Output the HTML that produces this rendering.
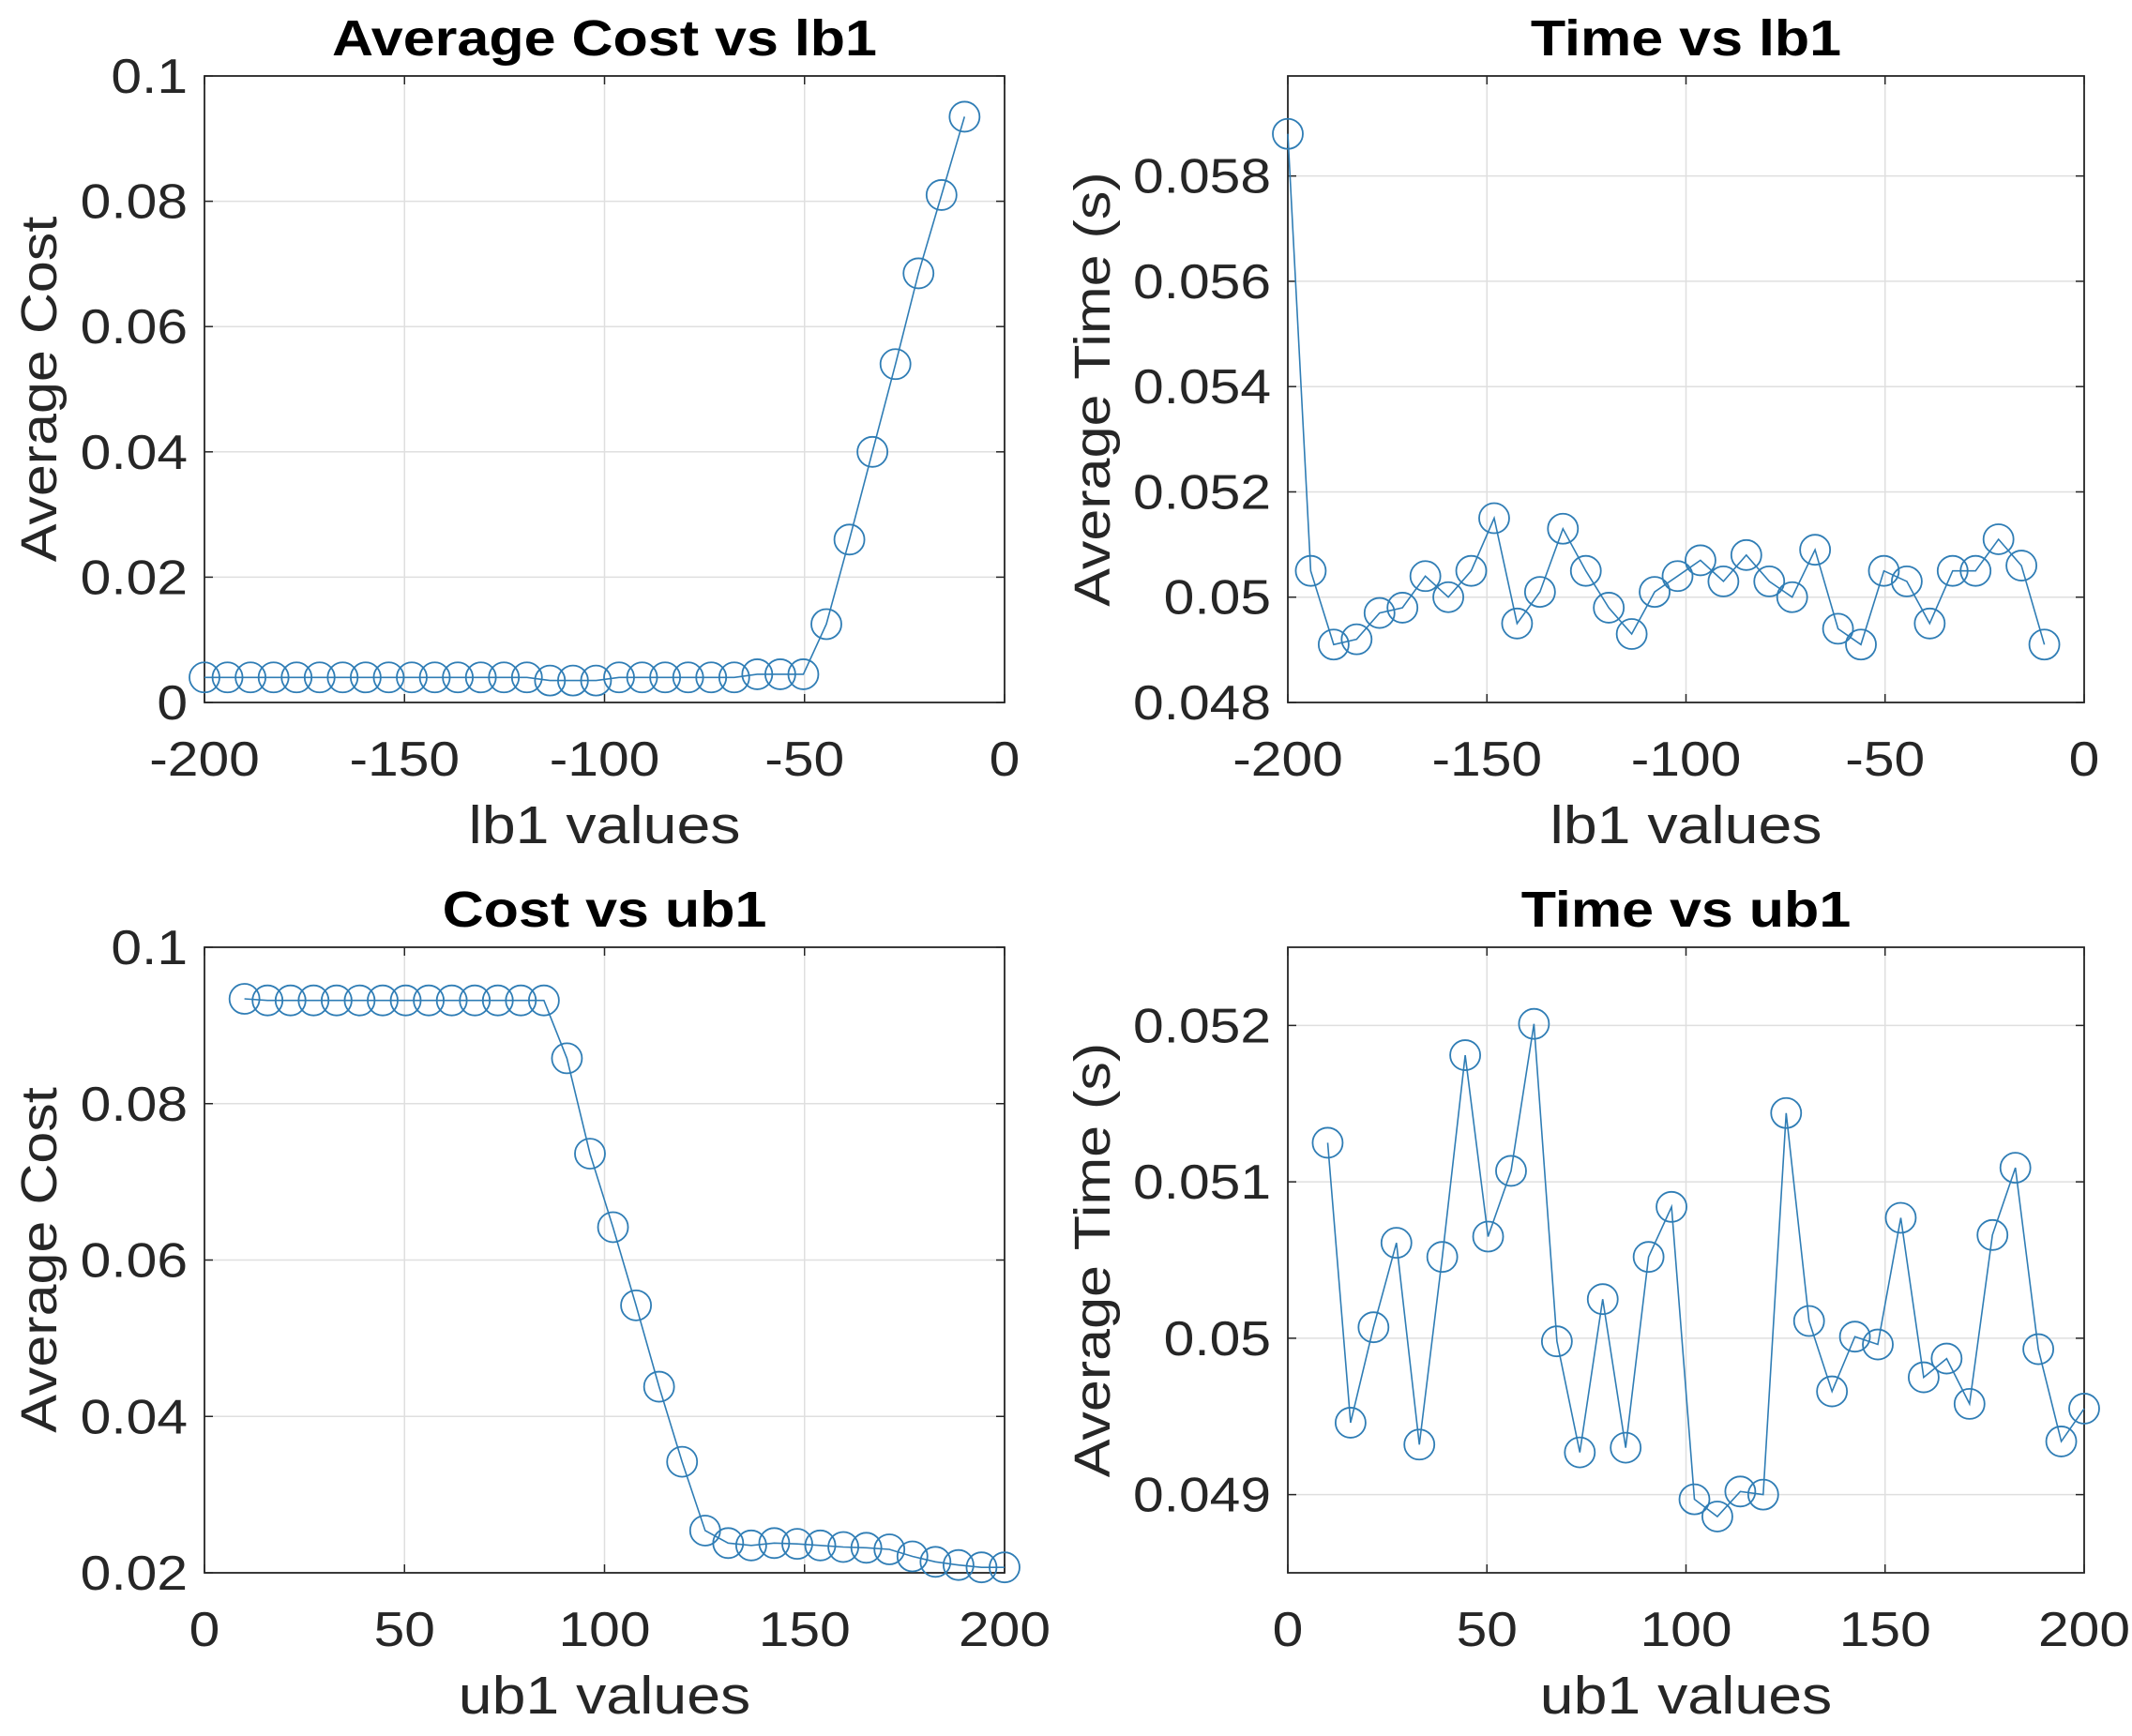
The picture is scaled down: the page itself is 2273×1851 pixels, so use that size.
<!DOCTYPE html>
<html><head><meta charset="utf-8"><style>
html,body{margin:0;padding:0;background:#fff;}
svg{display:block;font-family:"Liberation Sans",Arial,sans-serif;}
</style></head><body>
<svg id="fig" width="2273" height="1851" viewBox="0 0 2273 1851" xmlns="http://www.w3.org/2000/svg"></svg>
<script>
// ---- data ----
const lbX = [];
for (let i = 0; i < 34; i++) lbX.push(-200 + i * 190 / 33);
const ubX = [];
for (let i = 0; i < 34; i++) ubX.push(10 + i * 190 / 33);
const costLb = [0.004,0.004,0.004,0.004,0.004,0.004,0.004,0.004,0.004,0.004,0.004,0.004,0.004,0.004,0.004,0.0035,0.0035,0.0035,0.004,0.004,0.004,0.004,0.004,0.004,0.0045,0.0045,0.0045,0.0125,0.026,0.040,0.054,0.0685,0.081,0.0935];
const timeLb = [0.0588,0.0505,0.0491,0.0492,0.0497,0.0498,0.0504,0.0500,0.0505,0.0515,0.0495,0.0501,0.0513,0.0505,0.0498,0.0493,0.0501,0.0504,0.0507,0.0503,0.0508,0.0503,0.0500,0.0509,0.0494,0.0491,0.0505,0.0503,0.0495,0.0505,0.0505,0.0511,0.0506,0.0491];
const costUb = [0.0934,0.0932,0.0932,0.0932,0.0932,0.0932,0.0932,0.0932,0.0932,0.0932,0.0932,0.0932,0.0932,0.0932,0.0858,0.0736,0.0642,0.0542,0.0438,0.0342,0.0254,0.0238,0.0235,0.0238,0.0237,0.0235,0.0233,0.0232,0.0230,0.0221,0.0214,0.0210,0.0207,0.0207];
const timeUb = [0.05125,0.04946,0.05007,0.05061,0.04932,0.05052,0.05181,0.05065,0.05107,0.05201,0.04998,0.04927,0.05025,0.0493,0.05052,0.05084,0.04897,0.04886,0.04902,0.049,0.05144,0.05011,0.04966,0.05001,0.04996,0.05077,0.04975,0.04987,0.04958,0.05066,0.05109,0.04993,0.04934,0.04955];
const lbTicks = [-200,-150,-100,-50,0];
const ubTicks = [0,50,100,150,200];
const costLbTicks = [0,0.02,0.04,0.06,0.08,0.1];
const timeLbTicks = [0.048,0.05,0.052,0.054,0.056,0.058];
const costUbTicks = [0.02,0.04,0.06,0.08,0.1];
const timeUbTicks = [0.049,0.05,0.051,0.052];

const NS = "http://www.w3.org/2000/svg";
const svg = document.getElementById('fig');
const SX = 1.13;
function mk(tag, attrs, parent) {
  const e = document.createElementNS(NS, tag);
  for (const k in attrs) e.setAttribute(k, attrs[k]);
  (parent || svg).appendChild(e);
  return e;
}
function txt(g, x, y, s, size, anchor, extra, rot) {
  const t = mk('text', {x:0, y:0, 'text-anchor':anchor, 'font-size':size, fill:'#262626',
    transform:'translate('+x+' '+y+')' + (rot ? ' rotate(-90)' : '') + ' scale('+SX+' 1)'}, g);
  if (extra) for (const k in extra) t.setAttribute(k, extra[k]);
  t.textContent = s;
  return t;
}
function panel(o) {
  const g = mk('g', {});
  
  
  const sx = v => o.L + (v - o.xmin) / (o.xmax - o.xmin) * (o.R - o.L);
  const sy = v => o.B - (v - o.ymin) / (o.ymax - o.ymin) * (o.B - o.T);
  mk('rect', {x:o.L, y:o.T, width:o.R-o.L, height:o.B-o.T, fill:'#fff'}, g);
  o.xt.forEach(t => {
    const x = sx(t);
    const l = mk('line', {x1:x, x2:x, y1:o.T, y2:o.B, stroke:'#dfdfdf', 'stroke-width':1.5}, g);
    
    
    mk('line', {x1:x, x2:x, y1:o.B, y2:o.B-9, stroke:'#262626', 'stroke-width':1.5}, g);
    mk('line', {x1:x, x2:x, y1:o.T, y2:o.T+9, stroke:'#262626', 'stroke-width':1.5}, g);
    const tx = txt(g, x, o.B+78, String(t), 52, 'middle');
    
    
  });
  o.yt.forEach(t => {
    const y = sy(t);
    const l = mk('line', {x1:o.L, x2:o.R, y1:y, y2:y, stroke:'#dfdfdf', 'stroke-width':1.5}, g);
    
    
    mk('line', {x1:o.L, x2:o.L+9, y1:y, y2:y, stroke:'#262626', 'stroke-width':1.5}, g);
    mk('line', {x1:o.R, x2:o.R-9, y1:y, y2:y, stroke:'#262626', 'stroke-width':1.5}, g);
    const ty = txt(g, o.L-18, y+18, String(+t.toFixed(3)), 52, 'end');
    
    
  });
  mk('rect', {x:o.L, y:o.T, width:o.R-o.L, height:o.B-o.T, fill:'none', stroke:'#262626', 'stroke-width':1.8}, g);
  const pts = o.xs.map((x, i) => sx(x).toFixed(1) + ',' + sy(o.ys[i]).toFixed(1)).join(' ');
  const pl = mk('polyline', {points:pts, fill:'none', stroke:'#2f7db5', 'stroke-width':1.6}, g);
  
  
  o.xs.forEach((x, i) => {
    const c = mk('circle', {cx:sx(x), cy:sy(o.ys[i]), r:16, fill:'none', stroke:'#2f7db5', 'stroke-width':1.8}, g);
    
    
  });
  const ti = txt(g, (o.L+o.R)/2, o.T-22, o.title, 54, 'middle', {'font-weight':'bold', fill:'#000'});
  
  
  const xl = txt(g, (o.L+o.R)/2, o.B+150, o.xlabel, 57, 'middle');
  
  
  const yl = txt(g, o.ylx, (o.T+o.B)/2, o.ylabel, 54, 'middle', null, true);
  
  
}
panel({name:'cost-vs-lb1-chart', L:218, R:1071, T:81, B:749, xmin:-200, xmax:0, ymin:0, ymax:0.1,
  xt:lbTicks, yt:costLbTicks, xs:lbX, ys:costLb, title:'Average Cost vs lb1', xlabel:'lb1 values', ylabel:'Average Cost', ylx:60});
panel({name:'time-vs-lb1-chart', L:1373, R:2222, T:81, B:749, xmin:-200, xmax:0, ymin:0.048, ymax:0.0599,
  xt:lbTicks, yt:timeLbTicks, xs:lbX, ys:timeLb, title:'Time vs lb1', xlabel:'lb1 values', ylabel:'Average Time (s)', ylx:1183});
panel({name:'cost-vs-ub1-chart', L:218, R:1071, T:1010, B:1677, xmin:0, xmax:200, ymin:0.02, ymax:0.1,
  xt:ubTicks, yt:costUbTicks, xs:ubX, ys:costUb, title:'Cost vs ub1', xlabel:'ub1 values', ylabel:'Average Cost', ylx:60});
panel({name:'time-vs-ub1-chart', L:1373, R:2222, T:1010, B:1677, xmin:0, xmax:200, ymin:0.0485, ymax:0.0525,
  xt:ubTicks, yt:timeUbTicks, xs:ubX, ys:timeUb, title:'Time vs ub1', xlabel:'ub1 values', ylabel:'Average Time (s)', ylx:1183});
</script>
</body></html>
